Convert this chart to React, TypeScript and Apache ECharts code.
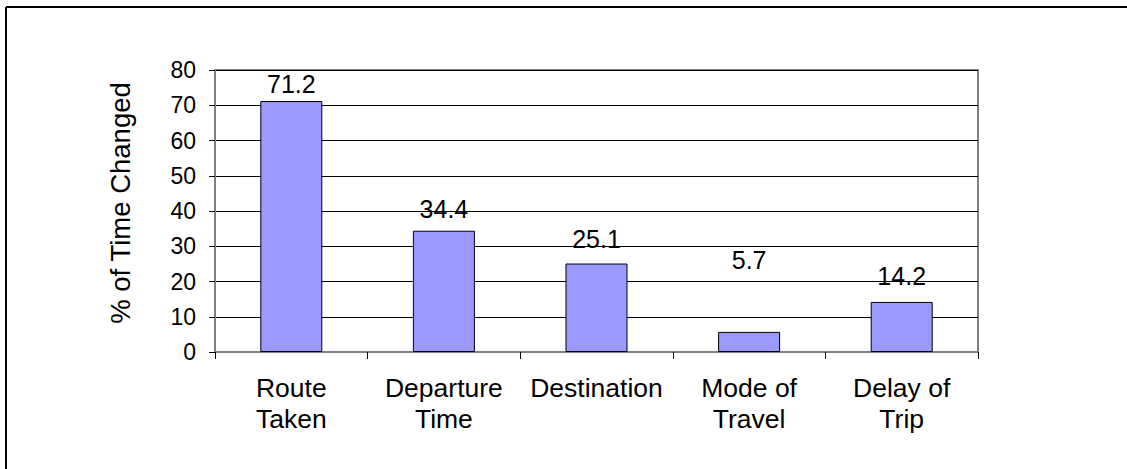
import React, { useEffect, useRef } from "react";
import * as echarts from "echarts";

const categories = ["Route\nTaken", "Departure\nTime", "Destination", "Mode of\nTravel", "Delay of\nTrip"];
const values = [71.2, 34.4, 25.1, 5.7, 14.2];
const labelDistances = [5, 9, 12, 59, 13];
const yTicks = [0, 10, 20, 30, 40, 50, 60, 70, 80];
const yAxisTitle = "% of Time Changed";

const FONT = "'Liberation Sans', Arial, sans-serif";

export default function App() {
  const ref = useRef<HTMLDivElement>(null);
  useEffect(() => {
    if (!ref.current) return;
    const chart = echarts.init(ref.current, undefined, { renderer: "svg" });
    chart.setOption({
      animation: false,
      backgroundColor: "#ffffff",
      textStyle: { fontFamily: FONT },
      grid: {
        left: 215,
        top: 70,
        right: 149,
        bottom: 117,
        show: true,
        borderColor: "#808080",
        borderWidth: 2,
        backgroundColor: "transparent",
      },
      xAxis: {
        type: "category",
        data: categories,
        axisLine: { show: true, lineStyle: { color: "#808080", width: 2 } },
        axisTick: { show: true, alignWithLabel: false, length: 7, lineStyle: { color: "#000000", width: 1 } },
        axisLabel: {
          color: "#000000",
          fontSize: 26.5,
          lineHeight: 31,
          margin: 20,
          fontFamily: FONT,
          interval: 0,
        },
        splitLine: { show: false },
      },
      yAxis: {
        type: "value",
        min: yTicks[0],
        max: yTicks[yTicks.length - 1],
        interval: 10,
        axisLine: { show: true, lineStyle: { color: "#808080", width: 2 } },
        axisTick: { show: true, length: 6, lineStyle: { color: "#000000", width: 1 } },
        axisLabel: { color: "#000000", fontSize: 23, margin: 19, fontFamily: FONT },
        splitLine: { show: true, lineStyle: { color: "#000000", width: 1 } },
      },
      series: [
        {
          type: "bar",
          data: values.map((v, i) => ({
            value: v,
            label: { distance: labelDistances[i] },
          })),
          barWidth: 62,
          itemStyle: { color: "#9999FF", borderColor: "#000000", borderWidth: 1 },
          label: {
            show: true,
            position: "top",
            color: "#000000",
            fontSize: 25,
            fontFamily: FONT,
            formatter: (p: any) => p.value.toFixed(1),
          },
        },
      ],
      graphic: [
        {
          type: "line",
          shape: { x1: 6, y1: 7, x2: 1127, y2: 7 },
          style: { stroke: "#000000", lineWidth: 2 },
          silent: true,
        },
        {
          type: "line",
          shape: { x1: 6, y1: 7, x2: 6, y2: 469 },
          style: { stroke: "#000000", lineWidth: 2 },
          silent: true,
        },
        {
          type: "text",
          x: 120,
          y: 203,
          rotation: Math.PI / 2,
          style: {
            text: yAxisTitle,
            fill: "#000000",
            font: `27.5px ${FONT}`,
            align: "center",
            verticalAlign: "middle",
          },
        },
      ],
    });
    return () => chart.dispose();
  }, []);
  return (
    <div
      ref={ref}
      style={{ position: "fixed", left: 0, top: 0, width: 1127, height: 469, background: "#fff" }}
    />
  );
}
